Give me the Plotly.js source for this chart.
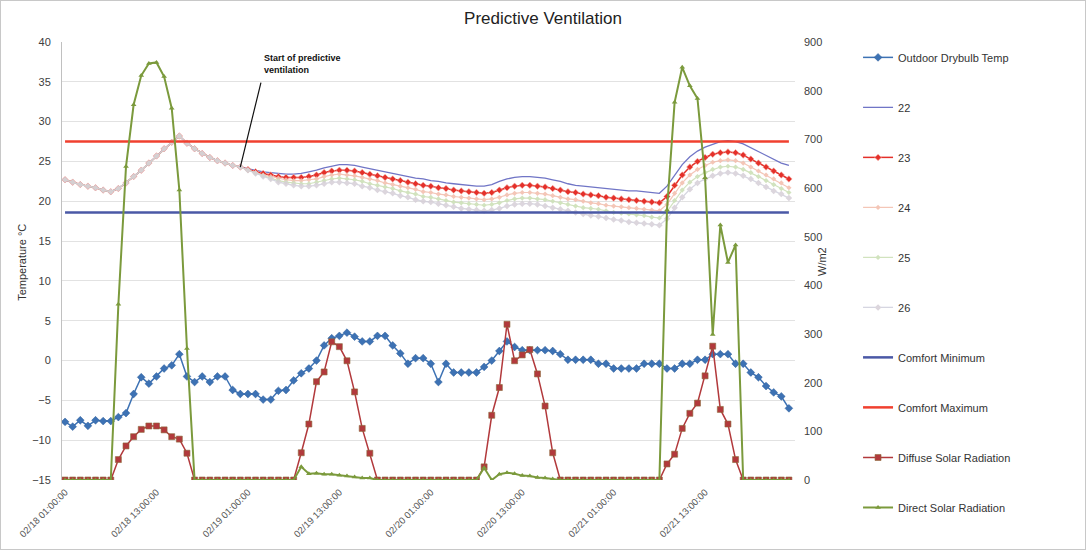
<!DOCTYPE html>
<html><head><meta charset="utf-8">
<script src="https://cdn.plot.ly/plotly-3.0.1.min.js"></script>
<style>html,body{margin:0;padding:0;background:#fff}#chart{width:1084px;height:548px;border:1px solid #c8c8c8}</style>
</head><body><div id="chart"></div>
<script>
// ---- Data (hourly, index 0 = 02/18 01:00) ----
const tickIdx = [0, 12, 24, 36, 48, 60, 72, 84];
const tickLabels = ["02/18 01:00:00", "02/18 13:00:00", "02/19 01:00:00", "02/19 13:00:00",
                    "02/20 01:00:00", "02/20 13:00:00", "02/21 01:00:00", "02/21 13:00:00"];

const outdoorTemp = [
  -7.7, -8.3, -7.5, -8.2, -7.5, -7.6, -7.6, -7.1, -6.6, -4.2,
  -2.1, -2.9, -2.0, -1.0, -0.6, 0.8, -2.0, -2.7, -2.0, -2.7,
  -2.0, -2.0, -3.7, -4.2, -4.2, -4.2, -4.9, -4.9, -3.8, -3.7,
  -2.5, -1.6, -1.0, 0.0, 1.9, 2.8, 3.1, 3.5, 3.0, 2.4,
  2.4, 3.1, 3.1, 1.9, 0.9, -0.4, 0.3, 0.3, -0.4, -2.7,
  -0.4, -1.5, -1.5, -1.5, -1.5, -0.8, 0.0, 1.2, 2.4, 1.7,
  1.3, 1.3, 1.3, 1.3, 1.2, 0.8, 0.1, 0.1, 0.1, 0.1,
  -0.4, -0.4, -1.0, -1.0, -1.0, -1.0, -0.4, -0.4, -0.4, -1.0,
  -1.0, -0.4, -0.4, 0.1, 0.1, 0.8, 0.8, 0.8, -0.4, -0.4,
  -1.5, -2.1, -3.2, -4.0, -4.5, -6.0
];

// shared indoor temperature before predictive ventilation starts (index 0..22)
const preVentTemp = [22.7, 22.4, 22.1, 21.9, 21.7, 21.4, 21.2, 21.6, 22.3, 23.1,
  23.9, 24.8, 25.7, 26.6, 27.4, 28.2, 27.3, 26.6, 26.0, 25.5, 25.1, 24.8, 24.5];

// setpoint series from index 23 onward
const sp22 = [24.3, 24.1, 23.9, 23.7, 23.6, 23.5, 23.4, 23.4, 23.5, 23.7,
  23.9, 24.2, 24.4, 24.6, 24.6, 24.5, 24.3, 24.1, 23.9, 23.7,
  23.5, 23.3, 23.1, 22.9, 22.8, 22.6, 22.5, 22.3, 22.2, 22.1,
  22.0, 21.9, 21.9, 22.1, 22.5, 22.8, 23.0, 23.1, 23.1, 23.0,
  22.9, 22.7, 22.5, 22.2, 22.0, 21.9, 21.8, 21.7, 21.6, 21.5,
  21.4, 21.3, 21.3, 21.2, 21.1, 21.0, 21.9, 23.3, 24.6, 25.6,
  26.3, 26.8, 27.2, 27.5, 27.6, 27.5, 27.2, 26.7, 26.2, 25.7,
  25.2, 24.8, 24.5];
const sp23 = [24.3, 24.0, 23.7, 23.5, 23.3, 23.1, 23.0, 23.0, 23.0, 23.1,
  23.3, 23.6, 23.8, 23.9, 23.9, 23.8, 23.6, 23.4, 23.2, 23.0,
  22.8, 22.6, 22.4, 22.2, 22.0, 21.9, 21.7, 21.6, 21.4, 21.3,
  21.2, 21.1, 21.0, 21.1, 21.4, 21.7, 21.9, 22.0, 22.0, 21.9,
  21.8, 21.6, 21.4, 21.2, 21.1, 20.9, 20.8, 20.7, 20.5, 20.4,
  20.3, 20.2, 20.1, 20.0, 19.9, 19.8, 20.6, 22.0, 23.3, 24.3,
  25.0, 25.5, 25.9, 26.1, 26.2, 26.1, 25.8, 25.3, 24.8, 24.3,
  23.8, 23.3, 22.8];
const sp24 = [24.3, 23.9, 23.6, 23.3, 23.1, 22.9, 22.7, 22.6, 22.6, 22.7,
  22.8, 23.1, 23.3, 23.4, 23.3, 23.2, 23.0, 22.8, 22.6, 22.3,
  22.1, 21.9, 21.7, 21.5, 21.2, 21.1, 20.9, 20.8, 20.6, 20.5,
  20.4, 20.3, 20.2, 20.3, 20.5, 20.8, 21.0, 21.1, 21.1, 21.0,
  20.9, 20.7, 20.5, 20.3, 20.2, 20.0, 19.8, 19.7, 19.5, 19.4,
  19.3, 19.2, 19.1, 19.0, 18.9, 18.8, 19.6, 21.0, 22.3, 23.3,
  24.0, 24.5, 24.9, 25.1, 25.2, 25.1, 24.8, 24.3, 23.8, 23.3,
  22.8, 22.3, 21.7];
const sp25 = [24.3, 23.9, 23.5, 23.2, 22.9, 22.6, 22.4, 22.3, 22.2, 22.2,
  22.4, 22.6, 22.8, 22.9, 22.8, 22.7, 22.5, 22.2, 22.0, 21.8,
  21.6, 21.3, 21.1, 20.9, 20.6, 20.5, 20.3, 20.1, 19.9, 19.8,
  19.7, 19.6, 19.5, 19.6, 19.8, 20.1, 20.3, 20.4, 20.4, 20.3,
  20.2, 20.0, 19.8, 19.6, 19.4, 19.2, 19.1, 19.0, 18.8, 18.6,
  18.5, 18.4, 18.3, 18.2, 18.0, 17.9, 18.7, 20.1, 21.4, 22.4,
  23.1, 23.6, 24.0, 24.3, 24.4, 24.3, 24.0, 23.6, 23.1, 22.6,
  22.1, 21.6, 21.1];
const sp26 = [24.3, 23.9, 23.5, 23.1, 22.8, 22.4, 22.2, 22.0, 21.9, 21.9,
  22.0, 22.2, 22.4, 22.4, 22.3, 22.2, 21.9, 21.7, 21.4, 21.2,
  21.0, 20.7, 20.5, 20.2, 20.0, 19.9, 19.7, 19.5, 19.3, 19.1,
  19.0, 18.9, 18.8, 18.9, 19.1, 19.4, 19.6, 19.7, 19.7, 19.6,
  19.4, 19.2, 19.0, 18.8, 18.6, 18.4, 18.2, 18.1, 17.9, 17.7,
  17.6, 17.4, 17.3, 17.2, 17.1, 17.0, 17.8, 19.2, 20.5, 21.5,
  22.3, 22.8, 23.2, 23.5, 23.6, 23.5, 23.2, 22.8, 22.3, 21.8,
  21.3, 20.9, 20.4];

const comfortMin = 18.6;
const comfortMax = 27.5;

const diffuseSolar = [
  0, 0, 0, 0, 0, 0, 0,
  42, 70, 89, 104, 111, 111, 103, 89, 84, 55,
  0, 0, 0, 0, 0, 0, 0, 0, 0, 0, 0, 0, 0, 0,
  56, 115, 202, 222, 284, 274, 245, 181, 106, 55,
  0, 0, 0, 0, 0, 0, 0, 0, 0, 0, 0, 0, 0, 0,
  27, 133, 190, 320, 245, 257, 268, 218, 152, 56,
  0, 0, 0, 0, 0, 0, 0, 0, 0, 0, 0, 0, 0, 0,
  33, 53, 106, 137, 158, 214, 275, 145, 115, 42,
  0, 0, 0, 0, 0, 0, 0
];
const directSolar = [
  0, 0, 0, 0, 0, 0, 0,
  361, 644, 771, 831, 856, 858, 829, 764, 596, 270,
  0, 0, 0, 0, 0, 0, 0, 0, 0, 0, 0, 0, 0, 0,
  27, 13, 14, 12, 12, 10, 8, 6, 4, 4,
  0, 0, 0, 0, 0, 0, 0, 0, 0, 0, 0, 0, 0, 0,
  25, 0, 12, 15, 13, 9, 8, 5, 4, 2,
  0, 0, 0, 0, 0, 0, 0, 0, 0, 0, 0, 0, 0, 0,
  555, 776, 848, 810, 784, 621, 299, 524, 447, 483,
  0, 0, 0, 0, 0, 0, 0
];

// ---- Build ----
const idx = outdoorTemp.map((_, i) => i);
const xFirst = idx[0], xLast = idx[idx.length - 1];
const full = s => preVentTemp.concat(s);
const FONT = "Liberation Sans, Arial, sans-serif";

function tr(name, y, opts) {
  return Object.assign({type: 'scatter', mode: 'lines', x: idx, y: y, name: name, legendgroup: name}, opts);
}

const traces = [
  tr('Outdoor Drybulb Temp', outdoorTemp, {mode: 'lines+markers',
    line: {color: '#3d72b4', width: 1.5},
    marker: {symbol: 'diamond', size: 6, color: '#3d72b4', line: {color: '#2f5f9a', width: 0.5}}}),
  tr('22', full(sp22), {line: {color: '#7075c6', width: 1.3}}),
  tr('23', full(sp23), {mode: 'lines+markers', line: {color: '#e4302a', width: 1.5},
    marker: {symbol: 'diamond', size: 5, color: '#e4302a', line: {color: '#f6b0a8', width: 0.6}}}),
  tr('24', full(sp24), {mode: 'lines+markers', line: {color: '#f3c0b0', width: 1.2}, opacity: 0.9,
    marker: {symbol: 'diamond', size: 4, color: '#f3c0b0'}}),
  tr('25', full(sp25), {mode: 'lines+markers', line: {color: '#cde0b8', width: 1.2}, opacity: 0.9,
    marker: {symbol: 'diamond', size: 4, color: '#cde0b8'}}),
  tr('26', full(sp26), {mode: 'lines+markers', line: {color: '#cfcfdc', width: 1.3}, opacity: 0.85,
    marker: {symbol: 'diamond', size: 5, color: '#d6cfd8'}}),
  tr('Comfort Minimum', [comfortMin, comfortMin], {x: [xFirst, xLast], line: {color: '#4a58a6', width: 2.5}}),
  tr('Comfort Maximum', [comfortMax, comfortMax], {x: [xFirst, xLast], line: {color: '#f0402f', width: 2.5}}),
  tr('Diffuse Solar Radiation', diffuseSolar, {mode: 'lines+markers', yaxis: 'y2', legend: 'legend2',
    line: {color: '#b2393c', width: 1.5},
    marker: {symbol: 'square', size: 6, color: '#b2393c', line: {color: '#8c6a3a', width: 0.6}}}),
  tr('Direct Solar Radiation', directSolar, {mode: 'lines+markers', yaxis: 'y2', legend: 'legend2',
    line: {color: '#7b9a3c', width: 2},
    marker: {symbol: 'triangle-up', size: 5, color: '#7b9a3c'}})
];

const legendCommon = {x: 1.086, xanchor: 'left', yanchor: 'top', tracegroupgap: 31,
  font: {family: FONT, size: 11, color: '#333'}, itemwidth: 30, bgcolor: 'rgba(0,0,0,0)'};

const layout = {
  width: 1084, height: 548,
  paper_bgcolor: '#fff', plot_bgcolor: '#fff',
  font: {family: FONT, color: '#404040', size: 11},
  margin: {l: 61, r: 290, t: 41, b: 69},
  title: {text: 'Predictive Ventilation', x: 0.5, xref: 'container', y: 0.969, yanchor: 'middle',
          font: {family: FONT, size: 17, color: '#222'}},
  showlegend: true,
  legend: Object.assign({y: 0.998}, legendCommon),
  legend2: Object.assign({y: 0.0845}, legendCommon),
  xaxis: {range: [-0.4, 95.8], tickmode: 'array', tickvals: tickIdx, ticktext: tickLabels,
          tickangle: -45, tickfont: {size: 9.5, color: '#555'}, showgrid: false, zeroline: false,
          showline: false, ticks: '', ticklabelstandoff: 4},
  yaxis: {range: [-15, 40], dtick: 5, tick0: -15, gridcolor: '#e2e2e2', gridwidth: 1, zeroline: false,
          showline: true, linecolor: '#c0c0c0', ticks: '', ticklabelstandoff: 8,
          tickfont: {size: 11, color: '#404040'}},
  yaxis2: {range: [0, 900], dtick: 100, overlaying: 'y', side: 'right', showgrid: false, zeroline: false,
           showline: false, ticks: '', ticklabelstandoff: 8, tickfont: {size: 11, color: '#404040'}},
  annotations: [
    {xref: 'paper', yref: 'paper', x: -0.0546, y: 0.498, xanchor: 'center', yanchor: 'middle',
     text: 'Temperature °C', textangle: -90, showarrow: false, font: {size: 11, color: '#333'}},
    {xref: 'paper', yref: 'paper', x: 1.037, y: 0.498, xanchor: 'center', yanchor: 'middle',
     text: 'W/m2', textangle: -90, showarrow: false, font: {size: 11, color: '#333'}},
    {xref: 'x', yref: 'y', x: 23, y: sp23[0], text: '', showarrow: true, arrowhead: 0,
     ax: 21, ay: -86, arrowcolor: '#111', arrowwidth: 1.2},
    {xref: 'paper', yref: 'paper', x: 0.273, y: 0.98, xanchor: 'left', yanchor: 'top', align: 'left',
     text: '<b>Start of predictive</b><br><b>ventilation</b>', showarrow: false,
     font: {size: 9, color: '#111'}}
  ]
};

Plotly.newPlot('chart', traces, layout, {displayModeBar: false, staticPlot: true});
</script></body></html>
